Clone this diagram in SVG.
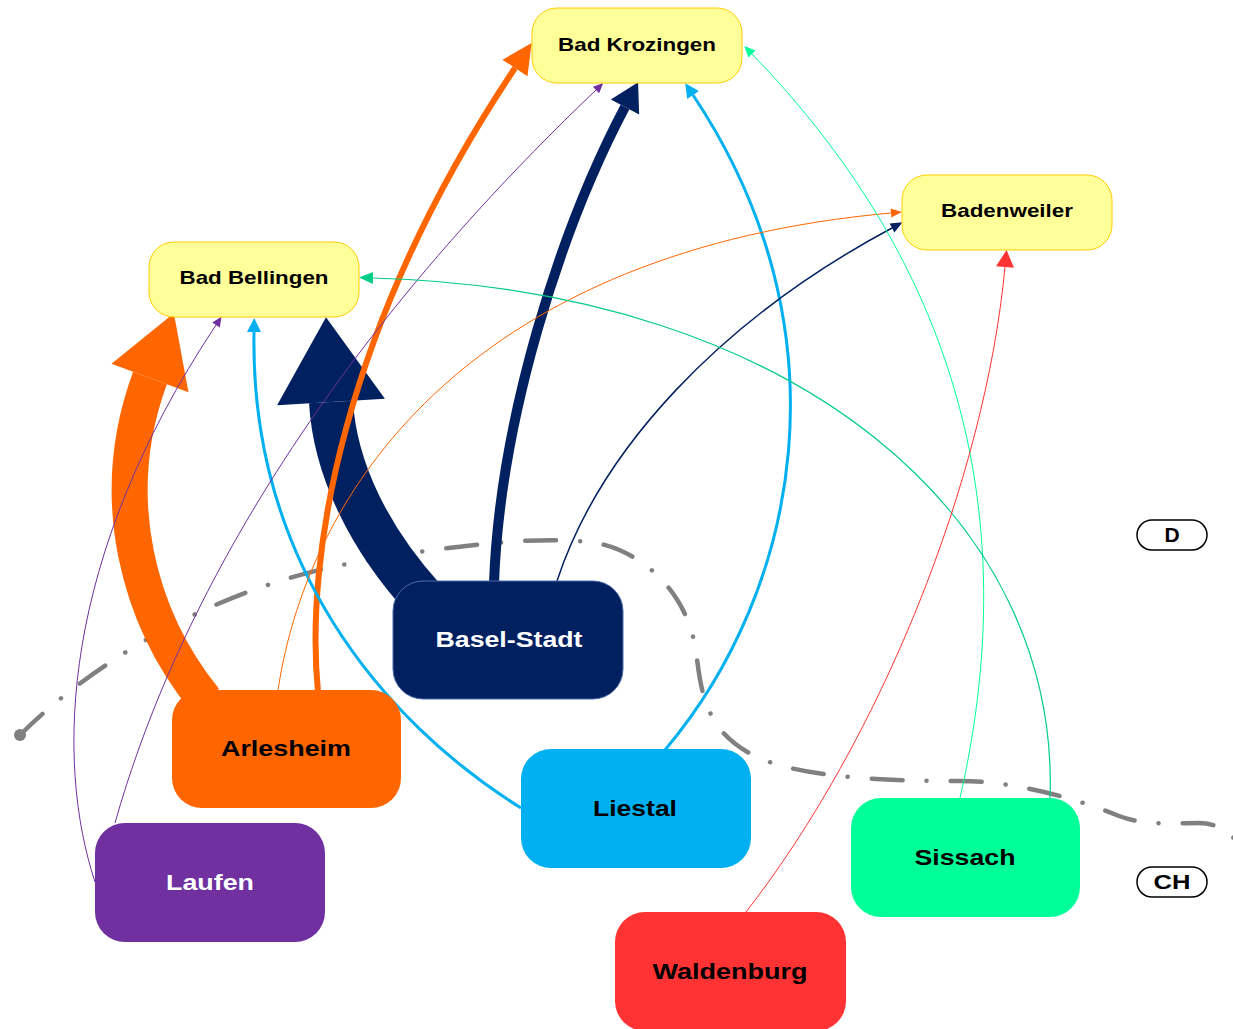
<svg xmlns="http://www.w3.org/2000/svg" width="1233" height="1029" viewBox="0 0 1233 1029">
<style>
.lbl{font-family:"Liberation Sans",Arial,sans-serif;font-weight:bold;text-anchor:middle}
.y{fill:#ffff99;stroke:#ffcc00;stroke-width:1}
.ty{font-size:18.5px;fill:#000}
.tc{font-size:22px}
.c{fill:none}
.pill{fill:#fff;stroke:#000;stroke-width:1.5}
.tp{font-size:21px;fill:#000}
</style>
<defs>
<marker id="mOrBig" markerUnits="userSpaceOnUse" orient="auto" refX="0" refY="0" markerWidth="10" markerHeight="10" overflow="visible"><path d="M0,-41 L69,0 L0,41 z" fill="#ff6600"/></marker>
<marker id="mNvBig" markerUnits="userSpaceOnUse" orient="auto" refX="0" refY="0" markerWidth="10" markerHeight="10" overflow="visible"><path d="M0,-54 L85,0 L0,54 z" fill="#002060"/></marker>
<marker id="mOr6" markerUnits="userSpaceOnUse" orient="auto" refX="0" refY="0" markerWidth="10" markerHeight="10" overflow="visible"><path d="M0,-15 L30,0 L0,15 z" fill="#ff6600"/></marker>
<marker id="mNv10" markerUnits="userSpaceOnUse" orient="auto" refX="0" refY="0" markerWidth="10" markerHeight="10" overflow="visible"><path d="M0,-16 L28,0 L0,16 z" fill="#002060"/></marker>
<marker id="mLb" markerUnits="userSpaceOnUse" orient="auto" refX="0" refY="0" markerWidth="10" markerHeight="10" overflow="visible"><path d="M0,-7 L14,0 L0,7 z" fill="#00b0f0"/></marker>
<marker id="mPu" markerUnits="userSpaceOnUse" orient="auto" refX="0" refY="0" markerWidth="10" markerHeight="10" overflow="visible"><path d="M0,-4.5 L10,0 L0,4.5 z" fill="#7030a0"/></marker>
<marker id="mOrS" markerUnits="userSpaceOnUse" orient="auto" refX="0" refY="0" markerWidth="10" markerHeight="10" overflow="visible"><path d="M0,-4.5 L11,0 L0,4.5 z" fill="#ff6600"/></marker>
<marker id="mNvS" markerUnits="userSpaceOnUse" orient="auto" refX="0" refY="0" markerWidth="10" markerHeight="10" overflow="visible"><path d="M0,-5 L12,0 L0,5 z" fill="#002060"/></marker>
<marker id="mTe" markerUnits="userSpaceOnUse" orient="auto" refX="0" refY="0" markerWidth="10" markerHeight="10" overflow="visible"><path d="M0,-6 L14,0 L0,6 z" fill="#00cc88"/></marker>
<marker id="mGr" markerUnits="userSpaceOnUse" orient="auto" refX="0" refY="0" markerWidth="10" markerHeight="10" overflow="visible"><path d="M0,-5 L11,0 L0,5 z" fill="#00ff99"/></marker>
<marker id="mRd" markerUnits="userSpaceOnUse" orient="auto" refX="0" refY="0" markerWidth="10" markerHeight="10" overflow="visible"><path d="M0,-9 L17,0 L0,9 z" fill="#ff3333"/></marker>
</defs>
<rect width="1233" height="1029" fill="#fff"/>

<g id="border">
<path d="M20,735 C80,675 200,590 357,562 C420,551 540,532 601,544 C640,553 690,590 697,659 C702,700 710,735 757,757 C800,777 880,781 960,781 C1010,781 1070,796 1119,816 C1145,826 1175,823 1199,823 C1215,823 1228,830 1240,845" fill="none" stroke="#808080" stroke-width="4.5" stroke-linecap="round" stroke-dasharray="31 24 0.1 24"/>
<circle cx="20" cy="735" r="6" fill="#808080"/>
</g>

<g id="connectors">
<path class="c" d="M205,700 C140,620 105,500 150,378" stroke="#ff6600" stroke-width="36" marker-end="url(#mOrBig)"/>
<path class="c" d="M425,600 C370,540 335,470 331,402" stroke="#002060" stroke-width="44" marker-end="url(#mNvBig)"/>
<path class="c" d="M318,692 C305,560 340,330 515,68" stroke="#ff6600" stroke-width="6" marker-end="url(#mOr6)"/>
<path class="c" d="M494,583 C500,420 560,230 625,107" stroke="#002060" stroke-width="10" marker-end="url(#mNv10)"/>
<path class="c" d="M665,750 C800,590 850,330 693,95" stroke="#00b0f0" stroke-width="3" marker-end="url(#mLb)"/>
<path class="c" d="M521,808 C380,720 250,560 254,332" stroke="#00b0f0" stroke-width="3" marker-end="url(#mLb)"/>
<path class="c" d="M115,823 C150,700 250,420 596,90" stroke="#7030a0" stroke-width="1" marker-end="url(#mPu)"/>
<path class="c" d="M95,882 C55,760 60,560 216,325" stroke="#7030a0" stroke-width="1" marker-end="url(#mPu)"/>
<path class="c" d="M278,690 C310,480 480,250 891,213" stroke="#ff6600" stroke-width="1" marker-end="url(#mOrS)"/>
<path class="c" d="M557,581 C600,450 720,320 892,228" stroke="#002060" stroke-width="1.5" marker-end="url(#mNvS)"/>
<path class="c" d="M960,798 C1005,600 1010,320 752,54" stroke="#00ff99" stroke-width="1" marker-end="url(#mGr)"/>
<path class="c" d="M1050,798 C1060,520 800,290 373,278" stroke="#00cc88" stroke-width="1.2" marker-end="url(#mTe)"/>
<path class="c" d="M746,912 C880,740 985,480 1005,267" stroke="#ff3333" stroke-width="1" marker-end="url(#mRd)"/>
</g>

<g id="bad-krozingen"><rect class="y" x="532" y="8" width="210" height="75" rx="25"/><text class="lbl ty" x="637" y="51" textLength="158" lengthAdjust="spacingAndGlyphs">Bad Krozingen</text></g>
<g id="bad-bellingen"><rect class="y" x="149" y="242" width="210" height="75" rx="25"/><text class="lbl ty" x="254" y="284" textLength="149" lengthAdjust="spacingAndGlyphs">Bad Bellingen</text></g>
<g id="badenweiler"><rect class="y" x="902" y="175" width="210" height="75" rx="25"/><text class="lbl ty" x="1007" y="217" textLength="132" lengthAdjust="spacingAndGlyphs">Badenweiler</text></g>
<g id="basel-stadt"><rect x="393" y="581" width="230" height="118" rx="30" fill="#002060" stroke="#4a6aa8" stroke-width="1"/><text class="lbl tc" x="509" y="647" fill="#fff" textLength="147" lengthAdjust="spacingAndGlyphs">Basel-Stadt</text></g>
<g id="arlesheim"><rect x="172" y="690" width="229" height="118" rx="30" fill="#ff6600"/><text class="lbl tc" x="286" y="756" fill="#000" textLength="130" lengthAdjust="spacingAndGlyphs">Arlesheim</text></g>
<g id="laufen"><rect x="95" y="823" width="230" height="119" rx="30" fill="#7030a0"/><text class="lbl tc" x="210" y="890" fill="#fff" textLength="88" lengthAdjust="spacingAndGlyphs">Laufen</text></g>
<g id="liestal"><rect x="521" y="749" width="230" height="119" rx="30" fill="#00b0f0"/><text class="lbl tc" x="635" y="816" fill="#000" textLength="84" lengthAdjust="spacingAndGlyphs">Liestal</text></g>
<g id="sissach"><rect x="851" y="798" width="229" height="119" rx="30" fill="#00ff99"/><text class="lbl tc" x="965" y="865" fill="#000" textLength="101" lengthAdjust="spacingAndGlyphs">Sissach</text></g>
<g id="waldenburg"><rect x="615" y="912" width="231" height="119" rx="30" fill="#ff3333"/><text class="lbl tc" x="730" y="979" fill="#000" textLength="155" lengthAdjust="spacingAndGlyphs">Waldenburg</text></g>
<g id="label-d"><rect class="pill" x="1137" y="520" width="70" height="30" rx="15"/><text class="lbl tp" x="1172" y="542">D</text></g>
<g id="label-ch"><rect class="pill" x="1137" y="867" width="70" height="30" rx="15"/><text class="lbl tp" x="1172" y="889" textLength="37" lengthAdjust="spacingAndGlyphs">CH</text></g>
</svg>
